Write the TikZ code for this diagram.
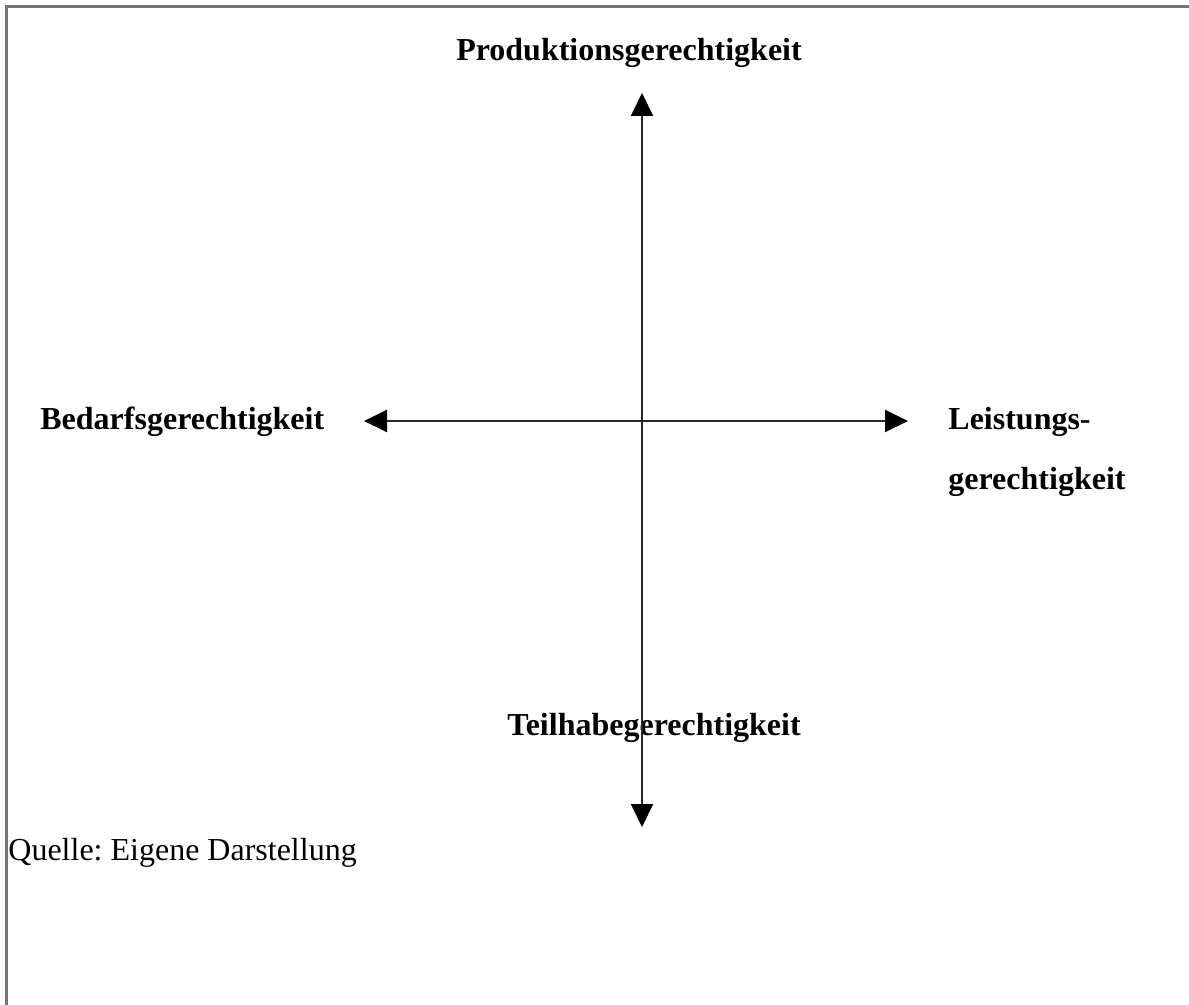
\documentclass[tikz,border=0pt]{standalone}
\usepackage{fontspec}
\setmainfont{Liberation Serif}
\usepackage{xcolor}
\usetikzlibrary{positioning, arrows.meta}
\definecolor{framegray}{RGB}{118, 118, 118}
\definecolor{axisgray}{RGB}{40, 40, 40}
\frenchspacing

\begin{document}
\begin{tikzpicture}[
			x=0.5pt, y=-0.5pt,
			label/.style={inner sep=0pt, font=\fontsize{16}{30}\selectfont\bfseries},
			source/.style={inner sep=0pt, font=\fontsize{16}{30}\selectfont},
			axis/.style={line width=1pt, draw=axisgray, {Triangle[length=11.5pt, width=11pt, color=black]}-{Triangle[length=11.5pt, width=11pt, color=black]}}
		]
		\useasboundingbox (0,0) rectangle (1189,1005);

		% frame (open at right and bottom)
		\draw[framegray, line width=1.2pt] (6.5,1005) -- (6.5,6.5) -- (1189,6.5);

		% axis ends
		\coordinate (top) at (642,93);
		\coordinate (bottom) at (642,827);
		\coordinate (left) at (364,421);
		\coordinate (right) at (908,421);

		\node (prod) [label, anchor=base] at (629,61) {Produktionsgerechtigkeit};
		\node (bedarf) [label, anchor=base west] at (40,430) {Bedarfsgerechtigkeit};
		\node (leistung) [label, anchor=base west, align=left] at (948,490) {Leistungs-\\gerechtigkeit};
		\node (teilhabe) [label, anchor=base] at (654,735) {Teilhabegerechtigkeit};

		\node (quelle) [source, anchor=base west] at (8,860) {Quelle: Eigene Darstellung};

		\draw[axis] (top) -- (bottom);
		\draw[axis] (left) -- (right);

	\end{tikzpicture}
\end{document}
